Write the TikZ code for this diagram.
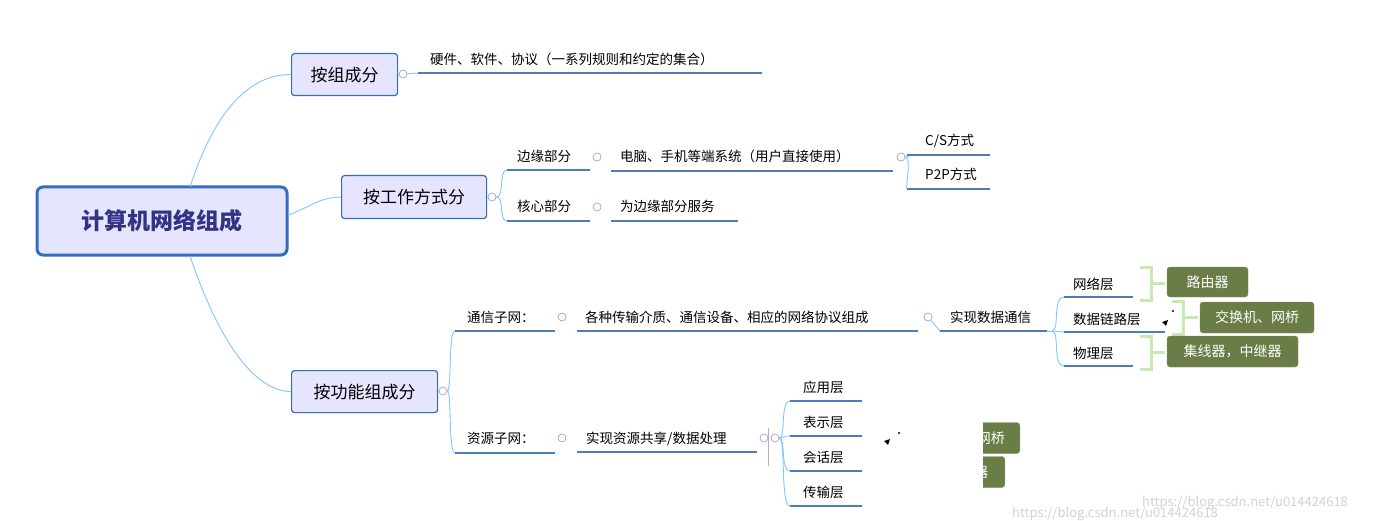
\documentclass[tikz,border=0pt]{standalone}
\usepackage{fontspec}
\setmainfont{Noto Sans CJK SC}
\newfontfamily\cjkb[BoldFont={Noto Sans CJK SC Bold}]{Noto Sans CJK SC}
\begin{document}
\begin{tikzpicture}[x=1pt,y=-1pt,
 conn/.style={draw=blue!45!cyan!50!white,line width=0.9pt},
 uline/.style={draw=blue!55!cyan!60!black!70!white,line width=1.8pt},
 topic/.style={draw=blue!60!cyan!70!black!80,fill=blue!10!white,rounded corners=3pt,line width=1.2pt,font=\fontsize{17}{20}\selectfont,inner sep=0pt,anchor=north west},
 lbl/.style={font=\fontsize{13.5}{16}\selectfont,anchor=base west,inner sep=0pt},
 col/.style={draw=blue!40!gray!60,line width=0.6pt,fill=white},
 gbox/.style={fill=olive!55!green!60!black!90,draw=olive!55!green!60!black!70,rounded corners=3pt,text=white,font=\fontsize{14}{16}\selectfont\itshape,inner sep=0pt},
 gbr/.style={draw=green!40!olive!30!white,line width=3pt}]
\useasboundingbox (0,0) rectangle (1388,521);
\fill[white] (0,0) rectangle (1388,521);
% root
\node[draw=blue!60!cyan!70!black!80,fill=blue!10!white,rounded corners=6pt,line width=3pt,minimum width=250pt,minimum height=68pt,font=\fontsize{23}{26}\selectfont\bfseries,text=blue!40!black!80] (root) at (162,221) {计算机网络组成};
\node[topic,minimum width=106pt,minimum height=42pt] (a) at (291,53) {};
\node at (a.center) [font=\fontsize{17}{20}\selectfont] {按组成分};
\node[topic,minimum width=145pt,minimum height=43pt] (b) at (341,175) {};
\node at (b.center) [font=\fontsize{17}{20}\selectfont] {按工作方式分};
\node[topic,minimum width=146pt,minimum height=42pt] (c) at (291,370) {};
\node at (c.center) [font=\fontsize{17}{20}\selectfont] {按功能组成分};
\coordinate (rt) at (190,187); \coordinate (rb) at (190,256);
\draw[conn] (rt) .. controls (215,110) and (250,74) .. (a.west);
\draw[conn] (root.east) ++(0,-6) .. controls (310,207) and (320,197) .. (b.west);
\draw[conn] (rb) .. controls (215,330) and (250,391) .. (c.west);
% branch a
\node[col,circle,inner sep=0pt,minimum size=8pt] (ca) at (403,74) {};
\draw[conn] (a.east) -- (ca);
\node[lbl] (t1) at (430,65) {硬件、软件、协议（一系列规则和约定的集合）};
\coordinate (u1a) at (418,73); \coordinate (u1b) at (762,73);
\draw[conn] (ca) -- (u1a); \draw[uline] (u1a) -- (u1b);
% branch b
\node[col,circle,inner sep=0pt,minimum size=8pt] (cb) at (492,197) {};
\draw[conn] (b.east) -- (cb);
\coordinate (e1) at (507,170); \coordinate (e2) at (590,170);
\coordinate (k1) at (507,221); \coordinate (k2) at (590,221);
\draw[conn] (cb.east) .. controls (505,197) and (498,170) .. (e1);
\draw[conn] (cb.east) .. controls (505,197) and (498,221) .. (k1);
\draw[uline] (e1) -- (e2); \draw[uline] (k1) -- (k2);
\node[lbl] (by) at (517,162) {边缘部分};
\node[lbl] (hx) at (517,212) {核心部分};
\node[col,circle,inner sep=0pt,minimum size=8pt] (cby) at (597,157) {};
\node[col,circle,inner sep=0pt,minimum size=8pt] (chx) at (597,207) {};
\node[lbl] (dn) at (620,162) {电脑、手机等端系统（用户直接使用）};
\node[lbl] (fw) at (620,212) {为边缘部分服务};
\coordinate (d1) at (611,171); \coordinate (d2) at (893,171);
\coordinate (f1) at (611,221); \coordinate (f2) at (738,221);
\draw[uline] (d1) -- (d2); \draw[uline] (f1) -- (f2);
\node[col,circle,inner sep=0pt,minimum size=8pt] (cdn) at (901,157) {};
\coordinate (cs1) at (907,155); \coordinate (cs2) at (990,155);
\coordinate (pp1) at (907,189); \coordinate (pp2) at (990,189);
\draw[conn] (cdn.east) .. controls (912,157) and (905,155) .. (cs1);
\draw[conn] (cdn.east) .. controls (912,157) and (905,189) .. (pp1);
\draw[uline] (cs1) -- (cs2); \draw[uline] (pp1) -- (pp2);
\node[lbl] (cs) at (925,146) {C/S方式};
\node[lbl] (pp) at (925,180) {P2P方式};
% branch c
\node[col,circle,inner sep=0pt,minimum size=8pt] (cc) at (443,391) {};
\draw[conn] (c.east) -- (cc);
\coordinate (tx1) at (455,331); \coordinate (tx2) at (555,331);
\coordinate (zy1) at (455,453); \coordinate (zy2) at (555,453);
\draw[conn] (cc.east) .. controls (452,391) and (448,331) .. (tx1);
\draw[conn] (cc.east) .. controls (452,391) and (448,453) .. (zy1);
\draw[uline] (tx1) -- (tx2); \draw[uline] (zy1) -- (zy2);
\node[lbl] (tx) at (467,322) {通信子网：};
\node[lbl] (zy) at (467,443) {资源子网：};
\node[col,circle,inner sep=0pt,minimum size=8pt] (ctx) at (562,317) {};
\node[col,circle,inner sep=0pt,minimum size=8pt] (czy) at (562,438) {};
\node[lbl] (gz) at (585,322) {各种传输介质、通信设备、相应的网络协议组成};
\coordinate (g1) at (577,331); \coordinate (g2) at (918,331);
\draw[uline] (g1) -- (g2);
\node[col,circle,inner sep=0pt,minimum size=8pt] (cgz) at (928,317) {};
\node[lbl] (ss) at (950,322) {实现数据通信};
\coordinate (s1) at (940,331); \coordinate (s2) at (1047,331);
\draw[conn] (cgz) -- (s1); \draw[uline] (s1) -- (s2);
\coordinate (sb) at (1052,331);
\coordinate (w1) at (1064,297); \coordinate (w2) at (1133,297);
\coordinate (l1) at (1064,332); \coordinate (l2) at (1165,332);
\coordinate (p1) at (1064,366); \coordinate (p2) at (1133,366);
\draw[conn] (s2) -- (sb);
\draw[conn] (sb) .. controls (1060,331) and (1052,297) .. (w1);
\draw[conn] (sb) -- (l1);
\draw[conn] (sb) .. controls (1060,331) and (1052,366) .. (p1);
\draw[uline] (w1) -- (w2); \draw[uline] (l1) -- (l2); \draw[uline] (p1) -- (p2);
\node[lbl] (wl) at (1073,289) {网络层};
\node[lbl] (sl) at (1073,324) {数据链路层};
\node[lbl] (wu) at (1073,358) {物理层};
% green brackets and boxes
\draw[gbr] (1140,267) -- (1151,267) -- (1151,300) -- (1140,300) (1151,283) -- (1165,283);
\draw[gbr] (1172,301) -- (1183,301) -- (1183,334) -- (1172,334) (1183,317) -- (1198,317);
\draw[gbr] (1140,336) -- (1151,336) -- (1151,369) -- (1140,369) (1151,352) -- (1165,352);
\node[gbox,minimum width=81pt,minimum height=30pt] (ly) at (1207.5,282) {路由器};
\node[gbox,minimum width=114pt,minimum height=31pt] (jh) at (1257,317.5) {交换机、网桥};
\node[gbox,minimum width=131pt,minimum height=31pt] (jx) at (1232.5,351.5) {集线器，中继器};
% resource branch
\node[lbl] (sx) at (586,443) {实现资源共享/数据处理};
\coordinate (x1) at (577,452); \coordinate (x2) at (757,452);
\draw[uline] (x1) -- (x2);
\node[col,circle,inner sep=0pt,minimum size=8pt] (csx) at (764,438) {};
\node[col,circle,inner sep=0pt,minimum size=8pt] (csx2) at (775,438) {};
\draw[draw=gray!60,line width=0.6pt] (768,428) -- (768,466);
\coordinate (ry1) at (790,401); \coordinate (ry2) at (862,401);
\coordinate (rb1) at (790,436); \coordinate (rb2) at (862,436);
\coordinate (rh1) at (790,471); \coordinate (rh2) at (862,471);
\coordinate (rc1) at (790,506); \coordinate (rc2) at (862,506);
\draw[conn] (csx2.east) .. controls (786,438) and (780,401) .. (ry1);
\draw[conn] (csx2.east) .. controls (786,438) and (780,436) .. (rb1);
\draw[conn] (csx2.east) .. controls (786,438) and (780,471) .. (rh1);
\draw[conn] (csx2.east) .. controls (786,438) and (780,506) .. (rc1);
\draw[uline] (ry1) -- (ry2); \draw[uline] (rb1) -- (rb2); \draw[uline] (rh1) -- (rh2); \draw[uline] (rc1) -- (rc2);
\node[lbl] (yy) at (803,392) {应用层};
\node[lbl] (bs) at (803,427) {表示层};
\node[lbl] (hh) at (803,462) {会话层};
\node[lbl] (cd) at (803,497) {传输层};
% artifacts
\fill (1162,322) -- (1168,320) -- (1166,326) -- cycle; \fill (1173,311) circle (1.2);
\fill (884,441) -- (890,439) -- (888,445) -- cycle; \fill (899,433) circle (1.2);
\begin{scope}
\clip (983,420) rectangle (1030,492);
\node[gbox,minimum width=114pt,minimum height=31pt,anchor=east] (p1b) at (1020,438) {\hfill 交换机、网桥};
\node[gbox,minimum width=131pt,minimum height=31pt,anchor=east] (p2b) at (1005,472) {集线器，中继器};
\end{scope}
\node[font=\fontsize{13}{15}\selectfont,text=gray!35,anchor=base west,inner sep=0pt] (wm1) at (1012,517) {https://blog.csdn.net/u014424618};
\node[font=\fontsize{13}{15}\selectfont,text=gray!35,anchor=base west,inner sep=0pt] (wm2) at (1142,506) {https://blog.csdn.net/u014424618};
\end{tikzpicture}
\end{document}
